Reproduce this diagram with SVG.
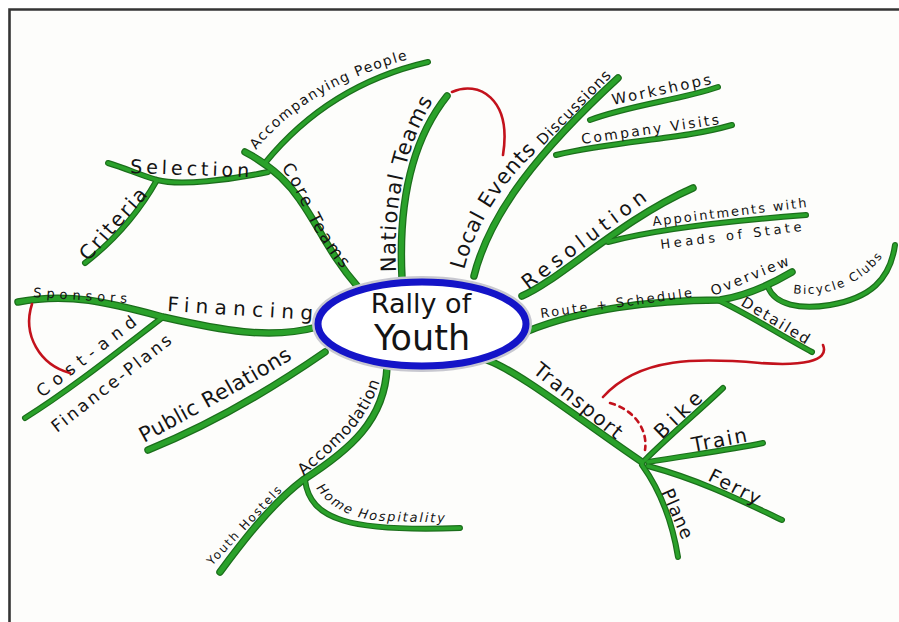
<svg xmlns="http://www.w3.org/2000/svg" width="899" height="622" viewBox="0 0 899 622">
<style>
.br{fill:none;stroke-linecap:round;stroke-linejoin:round}
.o{stroke:#1b6e1b}
.f{stroke:#2aa12a}
.m.o{stroke-width:7.5}.m.f{stroke-width:5}
.s.o{stroke-width:6}.s.f{stroke-width:3.6}
.red{fill:none;stroke:#c3121c;stroke-width:2.6;stroke-linecap:round}
text{font-family:"DejaVu Sans","Liberation Sans",sans-serif;fill:#141414}
</style>
<defs>
<path id="pNat" d="M402,278 C398,200 412,140 447,96"/>
<path id="pLoc" d="M474,276 C490,212 540,150 618,78"/>
<path id="pWork" d="M590,120 C630,105 680,100 718,87"/>
<path id="pComp" d="M556,155 C620,140 680,140 732,125"/>
<path id="pRes" d="M522,296 C560,280 620,220 693,188"/>
<path id="pApp" d="M608,242 C660,228 740,220 806,215"/>
<path id="pRoute" d="M528,331 C580,310 650,300 720,300 C745,296 770,285 792,272"/>
<path id="pBic" d="M768,287 C775,305 800,310 830,305 C870,298 890,280 895,245"/>
<path id="pDet" d="M718,300 C750,315 780,335 812,352"/>
<path id="pTrans" d="M487,360 C520,372 580,420 642,462"/>
<path id="pBike" d="M645,460 C670,435 700,410 723,388"/>
<path id="pTrain" d="M648,462 C690,455 730,450 763,443"/>
<path id="pFerry" d="M648,466 C700,480 740,500 782,520"/>
<path id="pPlane" d="M642,465 C660,490 672,520 678,557"/>
<path id="pAcc" d="M387,367 C385,420 350,450 303,480 C270,505 240,545 220,572"/>
<path id="pHome" d="M305,480 C310,520 350,532 460,528"/>
<path id="pPub" d="M325,352 C270,390 210,425 148,450"/>
<path id="pFin" d="M317,327 C270,340 220,330 163,317 C110,303 70,292 18,302"/>
<path id="pCost" d="M163,317 C120,350 70,390 25,418"/>
<path id="pCore" d="M358,287 C330,255 318,225 300,200 C288,182 270,165 245,152"/>
<path id="pAccP" d="M265,163 C300,120 350,80 428,62"/>
<path id="pSel" d="M268,172 C230,180 180,186 157,180 C140,175 125,168 108,163"/>
<path id="pCrit" d="M157,180 C140,210 115,240 85,263"/>
<path id="tNat" d="M396,272 C393,205 405,145 436,96"/>
<path id="tLoc" d="M464,270 C476,222 505,180 538,150"/>
<path id="tAcc" d="M304,476 C330,450 365,430 381,378"/>
<path id="tHome" d="M316,488 C332,510 355,520 385,521 C410,522 435,522 460,523"/>
<path id="tPub" d="M144,443 C200,412 255,383 313,346"/>
<path id="tCore" d="M281,168 C295,185 303,210 316,232 C328,252 340,268 352,278"/>
<path id="tAccP" d="M256,150 C288,110 340,74 430,54"/>
<path id="tBic" d="M793,293 C825,298 865,285 887,250"/>
</defs>
<rect x="0" y="0" width="899" height="622" fill="#ffffff"/>
<rect x="10" y="11" width="889" height="611" fill="#fdfdfb"/>
<path d="M9.5,622 V9.5 H899" fill="none" stroke="#353535" stroke-width="2.6"/>

<g id="connectors">
<g class="br">
<use href="#pNat" class="br m o"/><use href="#pLoc" class="br m o"/><use href="#pRes" class="br m o"/>
<use href="#pRoute" class="br m o"/><use href="#pTrans" class="br m o"/><use href="#pAcc" class="br m o"/>
<use href="#pPub" class="br m o"/><use href="#pFin" class="br m o"/><use href="#pCore" class="br m o"/>
<use href="#pWork" class="br s o"/><use href="#pComp" class="br s o"/><use href="#pApp" class="br s o"/>
<use href="#pBic" class="br s o"/><use href="#pDet" class="br s o"/><use href="#pBike" class="br s o"/>
<use href="#pTrain" class="br s o"/><use href="#pFerry" class="br s o"/><use href="#pPlane" class="br s o"/>
<use href="#pHome" class="br s o"/><use href="#pCost" class="br s o"/><use href="#pAccP" class="br s o"/>
<use href="#pSel" class="br s o"/><use href="#pCrit" class="br s o"/>
<use href="#pNat" class="br m f"/><use href="#pLoc" class="br m f"/><use href="#pRes" class="br m f"/>
<use href="#pRoute" class="br m f"/><use href="#pTrans" class="br m f"/><use href="#pAcc" class="br m f"/>
<use href="#pPub" class="br m f"/><use href="#pFin" class="br m f"/><use href="#pCore" class="br m f"/>
<use href="#pWork" class="br s f"/><use href="#pComp" class="br s f"/><use href="#pApp" class="br s f"/>
<use href="#pBic" class="br s f"/><use href="#pDet" class="br s f"/><use href="#pBike" class="br s f"/>
<use href="#pTrain" class="br s f"/><use href="#pFerry" class="br s f"/><use href="#pPlane" class="br s f"/>
<use href="#pHome" class="br s f"/><use href="#pCost" class="br s f"/><use href="#pAccP" class="br s f"/>
<use href="#pSel" class="br s f"/><use href="#pCrit" class="br s f"/>
</g>
<path class="red" d="M452,92 C478,80 512,98 503,155"/>
<path class="red" d="M32,304 C22,335 40,365 70,373"/>
<path class="red" d="M823,345 C830,362 800,366 760,363 C700,358 640,356 603,397"/>
<path class="red" d="M610,403 C635,410 648,430 645,450" stroke-dasharray="5,5"/>
</g>

<g id="node-center">
<ellipse cx="422" cy="324" rx="104" ry="42" fill="none" stroke="#c8c8d0" stroke-width="12"/>
<ellipse cx="422" cy="324" rx="104" ry="42" fill="#ffffff" stroke="#1414c8" stroke-width="7"/>
<text x="421" y="313" font-size="27" text-anchor="middle">Rally of</text>
<text x="422" y="350" font-size="35" text-anchor="middle">Youth</text>
</g>

<g id="node-national-teams"><text font-size="21" letter-spacing="1.3"><textPath href="#tNat">National Teams</textPath></text></g>
<g id="node-local-events"><text font-size="21" letter-spacing="0.8"><textPath href="#tLoc">Local Events</textPath></text></g>
<g id="node-discussions"><text font-size="15" transform="translate(543,146) rotate(-45.4)" textLength="98">Discussions</text></g>
<g id="node-workshops"><text font-size="15" transform="translate(613,105) rotate(-12)" textLength="101">Workshops</text></g>
<g id="node-company-visits"><text font-size="14" transform="translate(582,144) rotate(-8.2)" textLength="139">Company Visits</text></g>
<g id="node-resolution"><text font-size="20" transform="translate(528,290) rotate(-36.9)" textLength="150">Resolution</text></g>
<g id="node-appointments"><text font-size="13" transform="translate(653,226) rotate(-7)" textLength="155">Appointments with</text>
<text font-size="13" transform="translate(661,249) rotate(-7.3)" textLength="142">Heads of State</text></g>
<g id="node-route"><text font-size="13" transform="translate(541,318) rotate(-7.9)" textLength="153">Route + Schedule</text></g>
<g id="node-overview"><text font-size="14" transform="translate(713,296) rotate(-22)" textLength="83">Overview</text></g>
<g id="node-bicycle-clubs"><text font-size="12" letter-spacing="1.8"><textPath href="#tBic">Bicycle Clubs</textPath></text></g>
<g id="node-detailed"><text font-size="15" transform="translate(740,305) rotate(31)" textLength="77">Detailed</text></g>
<g id="node-transport"><text font-size="20" transform="translate(532,372) rotate(39)" textLength="108">Transport</text></g>
<g id="node-bike"><text font-size="20" transform="translate(662,440) rotate(-44)" textLength="58">Bike</text></g>
<g id="node-train"><text font-size="20" transform="translate(693,452) rotate(-11)" textLength="56">Train</text></g>
<g id="node-ferry"><text font-size="19" transform="translate(707,480) rotate(27)" textLength="56">Ferry</text></g>
<g id="node-plane"><text font-size="18" transform="translate(661,492) rotate(66)" textLength="53">Plane</text></g>
<g id="node-accomodation"><text font-size="16" letter-spacing="0.8"><textPath href="#tAcc">Accomodation</textPath></text></g>
<g id="node-youth-hostels"><text font-size="12" transform="translate(212,566) rotate(-47)" textLength="103">Youth Hostels</text></g>
<g id="node-home-hospitality"><text font-size="13" font-style="italic" letter-spacing="1.8"><textPath href="#tHome">Home Hospitality</textPath></text></g>
<g id="node-public-relations"><text font-size="21" letter-spacing="0.4"><textPath href="#tPub">Public Relations</textPath></text></g>
<g id="node-financing"><text font-size="20" transform="translate(167,311) rotate(3.5)" textLength="146">Financing</text></g>
<g id="node-sponsors"><text font-size="13" transform="translate(33,297) rotate(3.6)" textLength="94">Sponsors</text></g>
<g id="node-cost-plans"><text font-size="17" transform="translate(42,398) rotate(-37.6)" textLength="121">Cost-and</text>
<text font-size="17" transform="translate(57,433) rotate(-38)" textLength="147">Finance-Plans</text></g>
<g id="node-core-teams"><text font-size="17" letter-spacing="2.2"><textPath href="#tCore">Core Teams</textPath></text></g>
<g id="node-selection"><text font-size="19" transform="translate(130,173) rotate(2)" textLength="119">Selection</text></g>
<g id="node-criteria"><text font-size="20" transform="translate(88,262) rotate(-48)" textLength="90">Criteria</text></g>
<g id="node-accompanying"><text font-size="14" letter-spacing="1.4"><textPath href="#tAccP">Accompanying People</textPath></text></g>
</svg>
